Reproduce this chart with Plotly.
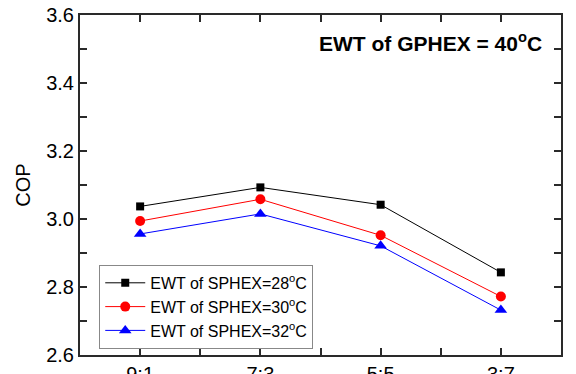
import plotly.graph_objects as go

# Flow ratio categories and COP for each SPHEX entering water temperature
ratios = ["9:1", "7:3", "5:5", "3:7"]
cop_28 = [3.037, 3.093, 3.042, 2.843]
cop_30 = [2.994, 3.058, 2.952, 2.772]
cop_32 = [2.956, 3.015, 2.921, 2.732]

# COP axis ticks every 0.1, labelled every 0.2
cop_ticks = [2.6, 2.7, 2.8, 2.9, 3.0, 3.1, 3.2, 3.3, 3.4, 3.5, 3.6]
cop_labels = ["2.6", "", "2.8", "", "3.0", "", "3.2", "", "3.4", "", "3.6"]

series = [
    ("EWT of SPHEX=28<sup>o</sup>C", cop_28, "black", "square", 8),
    ("EWT of SPHEX=30<sup>o</sup>C", cop_30, "red", "circle", 10),
    ("EWT of SPHEX=32<sup>o</sup>C", cop_32, "blue", "triangle-up", 11),
]

xpos = list(range(len(ratios)))
# ticks on the ratio axis at each category and halfway between them
xticks = [i * 0.5 - 0.5 for i in range(2 * len(ratios) + 1)]
xlabels = [ratios[int(t)] if t == int(t) and t >= 0 else "" for t in xticks]

FONT = "Liberation Sans, Arial, sans-serif"
AXIS_COLOR = "#2a2a2a"

fig = go.Figure()
for name, vals, color, symbol, size in series:
    fig.add_trace(go.Scatter(
        x=xpos, y=vals, name=name, mode="lines+markers",
        line=dict(color=color, width=1),
        marker=dict(color=color, symbol=symbol, size=size),
    ))

fig.add_annotation(
    text="<b>EWT of GPHEX = 40<sup>o</sup>C</b>",
    xref="paper", yref="paper", x=0.965, y=0.92,
    xanchor="right", yanchor="middle", showarrow=False,
    font=dict(family=FONT, size=21, color="black"),
)

fig.update_layout(
    width=576, height=374,
    margin=dict(l=80, r=15, t=15, b=19),
    paper_bgcolor="white", plot_bgcolor="white",
    font=dict(family=FONT, color="black"),
    legend=dict(
        x=0.04, y=0.265, xanchor="left", yanchor="top",
        bgcolor="white", bordercolor="#888", borderwidth=1,
        font=dict(family=FONT, size=16), tracegroupgap=0,
        itemwidth=40,
    ),
    xaxis=dict(
        range=[-0.5, 3.5], tickmode="array", tickvals=xticks, ticktext=xlabels,
        showgrid=False, zeroline=False, automargin=False,
        showline=True, linecolor=AXIS_COLOR, linewidth=2, mirror="ticks",
        ticks="inside", ticklen=7, tickwidth=2, tickcolor=AXIS_COLOR,
        tickfont=dict(family=FONT, size=20), ticklabelstandoff=0,
        layer="above traces",
    ),
    yaxis=dict(
        range=[2.6, 3.6], tickmode="array", tickvals=cop_ticks,
        ticktext=cop_labels,
        showgrid=False, zeroline=False, automargin=False,
        showline=True, linecolor=AXIS_COLOR, linewidth=2, mirror="ticks",
        ticks="inside", ticklen=7, tickwidth=2, tickcolor=AXIS_COLOR,
        tickfont=dict(family=FONT, size=20),
        layer="above traces",
        title=dict(text="COP", font=dict(family=FONT, size=20), standoff=10),
    ),
)

fig.write_html("out.html")
